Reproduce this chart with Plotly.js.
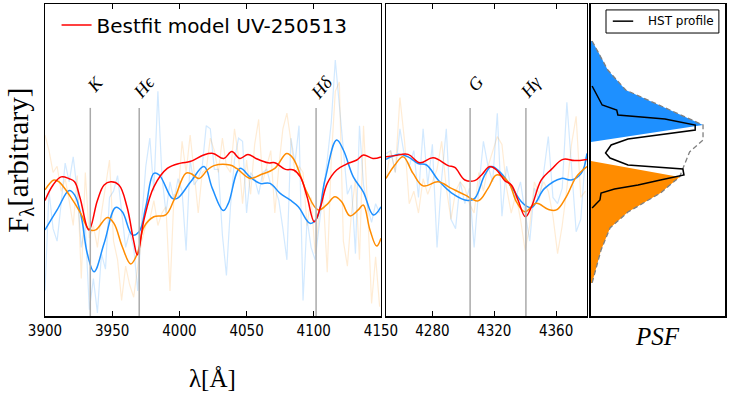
<!DOCTYPE html>
<html>
<head>
<meta charset="utf-8">
<script src="https://cdn.plot.ly/plotly-3.0.1.min.js"></script>
<style>
  html, body { margin: 0; padding: 0; background: #fff; }
  #chart { width: 730px; height: 396px; }
</style>
</head>
<body>
<div id="chart"></div>
<script>
// absorption lines marked on the spectra
const lineNames = ['K', 'Hϵ', 'Hδ', 'G', 'Hγ'];
const lineWaves = [3933.7, 3970.1, 4101.7, 4304.4, 4340.5];

// raw (noisy) spectra, left window 3900-4150
const rawWaveA = [3900,3903,3906,3909,3912,3915,3918,3921,3924,3927,3930,3933,3936,3939,3942,3945,3948,3951,3954,3957,3960,3963,3966,3969,3972,3975,3978,3981,3984,3987,3990,3993,3996,3999,4002,4005,4008,4011,4014,4017,4020,4023,4026,4029,4032,4035,4038,4041,4044,4047,4050,4053,4056,4059,4062,4065,4068,4071,4074,4077,4080,4083,4086,4089,4092,4095,4098,4101,4104,4107,4110,4113,4116,4119,4122,4125,4128,4131,4134,4137,4140,4143,4146,4149];
const rawBlueA = [0.08,0.40,0.28,0.24,0.36,0.49,0.43,0.51,0.40,0.22,0.29,0.02,0.12,0.01,0.20,0.15,0.38,0.40,0.45,0.33,0.22,0.27,0.22,0.08,0.31,0.48,0.57,0.40,0.72,0.45,0.33,0.43,0.37,0.44,0.40,0.21,0.50,0.42,0.44,0.48,0.61,0.60,0.47,0.47,0.26,0.13,0.35,0.50,0.57,0.56,0.33,0.46,0.44,0.39,0.46,0.47,0.42,0.41,0.37,0.28,0.18,0.57,0.49,0.61,0.05,0.31,0.22,0.18,0.30,0.40,0.50,0.62,0.82,0.68,0.54,0.39,0.42,0.20,0.61,0.42,0.35,0.30,0.36,0.33];
const rawOrangeA = [0.58,0.53,0.46,0.48,0.40,0.44,0.37,0.29,0.45,0.12,0.46,0.25,0.29,0.22,0.33,0.41,0.50,0.24,0.18,0.05,0.16,0.10,0.06,0.16,0.24,0.29,0.31,0.37,0.29,0.33,0.35,0.08,0.39,0.38,0.56,0.46,0.58,0.46,0.33,0.46,0.47,0.57,0.53,0.46,0.57,0.48,0.46,0.60,0.51,0.36,0.50,0.39,0.55,0.63,0.43,0.48,0.53,0.33,0.48,0.60,0.65,0.56,0.46,0.48,0.46,0.29,0.38,0.20,0.33,0.39,0.14,0.50,0.72,0.75,0.24,0.16,0.33,0.44,0.18,0.61,0.35,0.04,0.19,0.03];

// raw spectra, right window 4250-4380
const rawWaveB = [4250,4253,4256,4259,4262,4265,4268,4271,4274,4277,4280,4283,4286,4289,4292,4295,4298,4301,4304,4307,4310,4313,4316,4319,4322,4325,4328,4331,4334,4337,4340,4343,4346,4349,4352,4355,4358,4361,4364,4367,4370,4373,4376,4379];
const rawBlueB = [0.52,0.53,0.46,0.60,0.51,0.48,0.53,0.38,0.60,0.42,0.55,0.22,0.44,0.60,0.31,0.28,0.43,0.36,0.41,0.22,0.41,0.56,0.48,0.43,0.65,0.32,0.48,0.41,0.38,0.43,0.33,0.24,0.41,0.37,0.46,0.575,0.38,0.36,0.41,0.685,0.48,0.27,0.31,0.51];
const rawOrangeB = [0.44,0.53,0.46,0.70,0.56,0.36,0.40,0.33,0.44,0.39,0.43,0.47,0.56,0.41,0.31,0.40,0.43,0.41,0.36,0.33,0.46,0.40,0.48,0.53,0.575,0.55,0.41,0.33,0.39,0.31,0.21,0.29,0.43,0.39,0.43,0.40,0.32,0.20,0.29,0.41,0.55,0.64,0.38,0.40];

// smoothed spectra and best-fit model, left window
const redWaveA = [3900,3906,3912,3918,3922,3926,3932.7,3939,3944,3949,3955,3961,3966,3968.7,3973.7,3981,3991,4001,4008,4018,4025,4033,4039,4045,4051,4057,4066,4071,4079,4085,4090,4095,4100.4,4105,4110,4117,4124,4132,4137,4144,4150];
const redFluxA = [0.37,0.42,0.446,0.44,0.43,0.38,0.276,0.37,0.42,0.43,0.42,0.35,0.24,0.196,0.31,0.414,0.473,0.49,0.495,0.516,0.521,0.505,0.527,0.505,0.518,0.505,0.491,0.491,0.47,0.468,0.446,0.382,0.302,0.35,0.425,0.468,0.486,0.5,0.516,0.505,0.51];
const blueWaveA = [3900,3909,3918,3922,3927,3931.5,3936.5,3944,3952.6,3957.5,3965,3970,3975,3981,3985,3994.7,3998.4,4008.4,4018.3,4024.5,4032.7,4036.4,4045,4052.5,4060,4067.4,4075,4082.3,4088.5,4097.2,4102.2,4108.3,4117,4122,4129.4,4136.8,4144.3,4150];
const blueFluxA = [0.276,0.34,0.402,0.388,0.318,0.2,0.142,0.233,0.348,0.334,0.26,0.27,0.35,0.457,0.452,0.377,0.377,0.43,0.479,0.409,0.338,0.361,0.473,0.446,0.425,0.425,0.393,0.372,0.35,0.297,0.313,0.436,0.564,0.532,0.446,0.398,0.324,0.35];
const orangeWaveA = [3900,3906.7,3910.4,3919,3926.6,3932.7,3937.7,3946.4,3951.3,3957.5,3963.8,3968.7,3973.7,3981,3989.8,3996,4004.7,4008.4,4014.6,4020.8,4025.7,4037.6,4042.6,4052.5,4060,4071,4079.8,4084.7,4094.7,4103.3,4109.5,4115.7,4120.7,4126.9,4133.1,4136.8,4141.8,4146.8,4150];
const orangeFluxA = [0.404,0.436,0.43,0.382,0.329,0.278,0.276,0.316,0.297,0.222,0.167,0.2,0.286,0.318,0.324,0.372,0.457,0.457,0.441,0.468,0.482,0.484,0.473,0.441,0.452,0.473,0.521,0.505,0.398,0.34,0.356,0.382,0.366,0.321,0.34,0.356,0.276,0.224,0.249];

// smoothed spectra and best-fit model, right window
const redWaveB = [4250,4255.7,4264.3,4271.9,4280.5,4290.2,4294.5,4301,4307.4,4311.8,4317.1,4321.5,4326.8,4331.1,4335.4,4340.2,4344.1,4350.5,4357,4364.5,4372,4380];
const redFluxB = [0.51,0.514,0.518,0.491,0.507,0.482,0.476,0.436,0.434,0.452,0.479,0.468,0.434,0.42,0.372,0.318,0.35,0.436,0.47,0.502,0.498,0.502];
const blueWaveB = [4250,4257.8,4264.3,4270.7,4276.2,4283.7,4292.3,4303,4307.4,4313.9,4318.2,4323.6,4331.1,4338.6,4344.1,4352.6,4363.4,4369.8,4376.3,4380];
const blueFluxB = [0.502,0.518,0.51,0.489,0.484,0.436,0.395,0.37,0.377,0.452,0.479,0.462,0.414,0.361,0.348,0.409,0.441,0.436,0.457,0.521];
const orangeWaveB = [4250,4255.7,4261.1,4267.5,4274,4283.7,4292.3,4301,4309.6,4316,4321.5,4329,4334.4,4339.8,4347.3,4354.8,4360.2,4366.6,4373.1,4380];
const orangeFluxB = [0.441,0.484,0.51,0.457,0.417,0.43,0.409,0.388,0.369,0.409,0.452,0.43,0.366,0.334,0.361,0.342,0.34,0.382,0.446,0.479];

// PSF panel: model profile (intensity vs position), split into two components
const psfPos = [1.19,1.05,0.90,0.70,0.57,0.35,0.20,0.08,-0.03,-0.17,-0.33,-0.52,-0.68,-0.90,-1.23];
const psfFlux = [0.01,0.08,0.15,0.31,0.57,1.0,1.0,0.88,0.84,0.79,0.62,0.33,0.17,0.09,0.01];
const psfSplitTop = 0.18;      // where the upper (blue) component meets the axis
const psfSplitBottom = -0.01;  // where the lower (orange) component meets the axis
const hstPos = [0.74,0.63,0.55,0.50,0.45,0.41,0.35,0.30,0.21,0.15,0.07,0.02,-0.05,-0.09,-0.15,-0.20,-0.25,-0.29,-0.33,-0.40,-0.48];
const hstFlux = [0.01,0.06,0.10,0.23,0.24,0.66,0.93,0.93,0.33,0.18,0.13,0.17,0.33,0.82,0.83,0.62,0.42,0.21,0.09,0.08,0.01];

const BLUE = '#1E90FF';
const ORANGE = '#FF8C00';
const RED = '#FF0000';
const SERIF = '"Liberation Serif", "DejaVu Serif", serif';
const SANS = '"DejaVu Sans", sans-serif';

let plotData = [];

function addSpectra(xa, ya, wave, rawB, rawO, bw, bf, ow, of, rw, rf, showLegend) {
  plotData.push({
    x: wave, y: rawB, xaxis: xa, yaxis: ya, mode: 'lines', hoverinfo: 'skip', showlegend: false,
    line: { color: 'rgba(30,144,255,0.2)', width: 1.2 },
  });
  plotData.push({
    x: wave, y: rawO, xaxis: xa, yaxis: ya, mode: 'lines', hoverinfo: 'skip', showlegend: false,
    line: { color: 'rgba(255,140,0,0.17)', width: 1.2 },
  });
  plotData.push({
    x: bw, y: bf, xaxis: xa, yaxis: ya, mode: 'lines', hoverinfo: 'skip', showlegend: false,
    line: { color: BLUE, width: 1.5, shape: 'spline', smoothing: 1.1 },
  });
  plotData.push({
    x: ow, y: of, xaxis: xa, yaxis: ya, mode: 'lines', hoverinfo: 'skip', showlegend: false,
    line: { color: ORANGE, width: 1.5, shape: 'spline', smoothing: 1.1 },
  });
  plotData.push({
    name: 'Bestfit model UV-250513',
    x: rw, y: rf, xaxis: xa, yaxis: ya, mode: 'lines', hoverinfo: 'skip', showlegend: showLegend,
    line: { color: RED, width: 1.5, shape: 'spline', smoothing: 1.1 },
  });
}

addSpectra('x', 'y', rawWaveA, rawBlueA, rawOrangeA, blueWaveA, blueFluxA, orangeWaveA, orangeFluxA, redWaveA, redFluxA, true);
addSpectra('x2', 'y2', rawWaveB, rawBlueB, rawOrangeB, blueWaveB, blueFluxB, orangeWaveB, orangeFluxB, redWaveB, redFluxB, false);

// PSF components as filled polygons
const peakIdx = psfFlux.indexOf(Math.max(...psfFlux));
const lowPeakIdx = psfPos.indexOf(-0.17);
plotData.push({
  x: [0, ...psfFlux.slice(0, peakIdx + 1), 0],
  y: [psfPos[0], ...psfPos.slice(0, peakIdx + 1), psfSplitTop],
  xaxis: 'x3', yaxis: 'y3', mode: 'lines', fill: 'toself', fillcolor: BLUE,
  line: { width: 0 }, hoverinfo: 'skip', showlegend: false,
});
plotData.push({
  x: [0, ...psfFlux.slice(lowPeakIdx), 0],
  y: [psfSplitBottom, ...psfPos.slice(lowPeakIdx), psfPos[psfPos.length - 1]],
  xaxis: 'x3', yaxis: 'y3', mode: 'lines', fill: 'toself', fillcolor: ORANGE,
  line: { width: 0 }, hoverinfo: 'skip', showlegend: false,
});
plotData.push({
  x: psfFlux, y: psfPos, xaxis: 'x3', yaxis: 'y3', mode: 'lines',
  line: { color: '#808080', width: 1.3, dash: '5px,3px' }, hoverinfo: 'skip', showlegend: false,
});
plotData.push({
  x: hstFlux, y: hstPos, xaxis: 'x3', yaxis: 'y3', mode: 'lines',
  line: { color: '#000000', width: 1.5 }, hoverinfo: 'skip', showlegend: false,
});

const frame = { showline: true, linecolor: '#000', linewidth: 1.5, mirror: true, showgrid: false, zeroline: false, fixedrange: true };
const tickFont = { family: '"DejaVu Sans Condensed", "Liberation Sans Narrow", "DejaVu Sans", sans-serif', size: 15, color: '#000' };

const plotLayout = {
  width: 730,
  height: 396,
  margin: { l: 45, r: 5, t: 4, b: 80 },
  paper_bgcolor: '#fff',
  plot_bgcolor: '#fff',
  xaxis: Object.assign({}, frame, {
    domain: [0, 0.4941], range: [3900, 4150], tickvals: [3900, 3950, 4000, 4050, 4100, 4150],
    ticks: 'inside', ticklen: 5, tickcolor: '#000', mirror: 'allticks', tickfont: tickFont, anchor: 'y',
  }),
  xaxis2: Object.assign({}, frame, {
    domain: [0.5015, 0.797], range: [4250, 4380], tickvals: [4280, 4320, 4360],
    ticks: 'inside', ticklen: 5, tickcolor: '#000', mirror: 'allticks', tickfont: tickFont, anchor: 'y2',
  }),
  xaxis3: Object.assign({}, frame, {
    domain: [0.8029, 1], range: [0, 1.196], showticklabels: false, ticks: '', anchor: 'y3',
  }),
  yaxis: Object.assign({}, frame, { domain: [0, 1], range: [0, 1], showticklabels: false, ticks: '', anchor: 'x' }),
  yaxis2: Object.assign({}, frame, { domain: [0, 1], range: [0, 1], showticklabels: false, ticks: '', anchor: 'x2' }),
  yaxis3: Object.assign({}, frame, { domain: [0, 1], range: [-1.56, 1.56], showticklabels: false, ticks: '', anchor: 'x3' }),
  showlegend: true,
  legend: {
    x: 0.017, y: 0.995, xanchor: 'left', yanchor: 'top',
    bgcolor: 'rgba(0,0,0,0)', borderwidth: 0,
    font: { family: SANS, size: 20, color: '#000' },
  },
  shapes: [],
  annotations: [],
};

// vertical markers for the absorption lines, with slanted labels
lineWaves.forEach((wave, i) => {
  const xr = wave < 4200 ? 'x' : 'x2';
  plotLayout.shapes.push({
    type: 'line', xref: xr, yref: 'paper', x0: wave, x1: wave, y0: 0, y1: 0.667,
    line: { color: '#aaaaaa', width: 1.5 },
  });
  plotLayout.annotations.push({
    xref: xr, yref: 'paper', x: wave, y: 0.745, xshift: 5, yshift: 14,
    text: lineNames[i], showarrow: false, textangle: -50,
    font: { family: SERIF, size: 18, color: '#000', style: 'italic' },
  });
});

// HST profile legend box in the PSF panel
plotLayout.shapes.push({
  type: 'rect', xref: 'paper', yref: 'paper', x0: 0.825, x1: 0.991, y0: 0.907, y1: 0.981,
  line: { color: '#000', width: 1 }, fillcolor: '#fff',
});
plotLayout.shapes.push({
  type: 'line', xref: 'paper', yref: 'paper', x0: 0.835, x1: 0.865, y0: 0.945, y1: 0.945,
  line: { color: '#000', width: 1.5 },
});
plotLayout.annotations.push({
  xref: 'paper', yref: 'paper', x: 0.884, y: 0.945, xanchor: 'left', yanchor: 'middle',
  text: 'HST profile', showarrow: false,
  font: { family: SANS, size: 12, color: '#000' },
});

// axis titles
plotLayout.annotations.push({
  xref: 'paper', yref: 'paper', x: -0.037, y: 0.5, xanchor: 'center', yanchor: 'middle',
  text: 'F<sub>λ</sub>[arbitrary]', showarrow: false, textangle: -90,
  font: { family: SERIF, size: 29, color: '#000' },
});
plotLayout.annotations.push({
  xref: 'paper', yref: 'paper', x: 0.247, y: -0.199, xanchor: 'center', yanchor: 'middle',
  text: 'λ[Å]', showarrow: false,
  font: { family: SERIF, size: 25, color: '#000' },
});
plotLayout.annotations.push({
  xref: 'paper', yref: 'paper', x: 0.901, y: -0.067, xanchor: 'center', yanchor: 'middle',
  text: 'PSF', showarrow: false,
  font: { family: SERIF, size: 25, color: '#000', style: 'italic' },
});

Plotly.newPlot('chart', plotData, plotLayout, { displayModeBar: false, staticPlot: true });
</script>
</body>
</html>
